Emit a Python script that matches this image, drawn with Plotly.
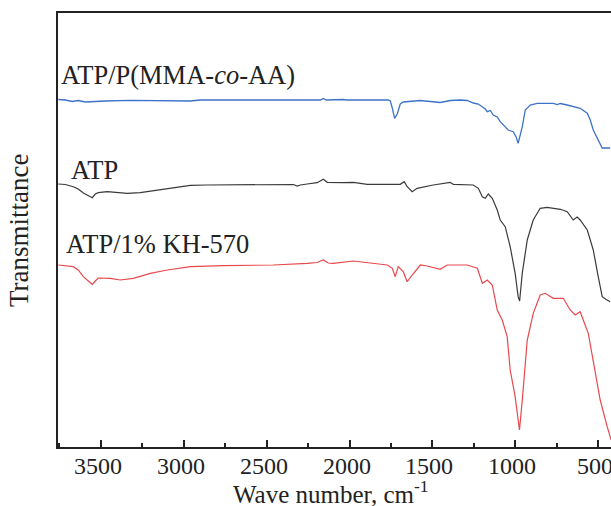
import plotly.graph_objects as go

# Wavenumber (cm^-1) and transmittance (arbitrary units, offset traces)
wn_blue = [3756, 3714, 3672, 3636, 3593, 3545, 3473, 3322, 3141, 2960, 2900, 2538, 2176, 2158, 2140, 2037, 2020,
           1766, 1754, 1742, 1728, 1712, 1694, 1676, 1634, 1573, 1513, 1453, 1392, 1332, 1290, 1254, 1223, 1199,
           1181, 1169, 1151, 1133, 1109, 1091, 1067, 1043, 1013, 995, 983, 970, 958, 940, 910, 868, 771, 747, 729,
           687, 609, 566, 548, 530, 506, 476, 428]
t_blue = [347.5, 347, 345.5, 346.5, 345, 345.5, 346, 346.7, 346.7, 346, 347, 347, 347, 348.5, 347, 347.5, 347,
          347, 346, 339, 328.7, 333, 343, 345, 345.5, 346.5, 345.5, 344.5, 346.5, 347, 346.5, 344, 343, 340.3,
          338, 335.3, 336.5, 332, 330, 325.3, 321, 317, 315.3, 310, 303.7, 311, 320.3, 337, 342, 343.7, 343.7, 342.5, 343.5,
          342, 338.7, 333.7, 327, 317, 309, 299, 299]

wn_black = [3756, 3714, 3666, 3636, 3605, 3575, 3551, 3533, 3515, 3461, 3400, 3340, 3262, 3159, 3063, 2960, 2858,
            2659, 2459, 2339, 2315, 2297, 2255, 2195, 2158, 2134, 2037, 1977, 1893, 1694, 1670, 1652, 1622, 1592,
            1495, 1393, 1374, 1254, 1223, 1199, 1181, 1163, 1139, 1109, 1091, 1061, 1031, 1001, 983, 974, 958, 940,
            928, 892, 850, 808, 729, 687, 651, 627, 609, 566, 530, 500, 476, 452, 428]
t_black = [263, 262.5, 260.3, 258, 254, 251, 249.3, 253, 254.3, 255.3, 254.3, 253.7, 254.3, 257, 259.7, 261.7, 262,
           262.3, 262.3, 262.5, 261, 262, 263, 264.3, 267.7, 264.7, 264.3, 264.7, 262.7, 262.7, 265.3, 260.3, 255.3, 258.7,
           262, 264.7, 262.7, 262, 258.7, 250.3, 248.7, 253, 248.7, 237, 227, 220.3, 200.3, 173.7, 150.3, 146, 174, 192,
           207, 227, 238.7, 239.7, 237.7, 235.3, 227, 230, 227, 217, 197, 170.3, 150.3, 147.5, 145.3]

wn_red = [3756, 3714, 3666, 3636, 3605, 3575, 3551, 3533, 3515, 3443, 3382, 3304, 3201, 3099, 2960, 2761, 2459,
          2255, 2195, 2158, 2128, 2098, 1977, 1772, 1742, 1724, 1706, 1676, 1652, 1622, 1573, 1531, 1495, 1453,
          1411, 1290, 1229, 1199, 1169, 1151, 1139, 1109, 1079, 1049, 1031, 1001, 989, 975, 958, 928, 892, 850,
          820, 771, 711, 669, 639, 609, 560, 530, 488, 446, 422]
t_red = [182, 181.5, 180.3, 177, 170.3, 166, 162.7, 166, 169, 168.7, 167, 168.7, 173.7, 177, 180.3, 181.3, 182,
         183.7, 184.5, 187, 184, 183.7, 186, 182, 178.7, 170.3, 180.3, 175.3, 165.3, 172, 182, 181, 179.7, 177.7,
         182, 182, 178.7, 163.7, 167, 163.7, 162, 137, 127, 110.3, 77, 50.3, 37, 17, 47, 107, 133.7, 152,
         153.7, 148.7, 148.7, 137, 132, 135.3, 113.7, 87, 47, 20.3, 7]

labels = ["ATP/P(MMA-<i>co</i>-AA)", "ATP", "ATP/1% KH-570"]
label_x = [3750, 3690, 3720]
label_y = [372.5, 277.5, 203.5]
tick_vals = [3500, 3000, 2500, 2000, 1500, 1000, 500]
tick_text = ["3500", "3000", "2500", "2000", "1500", "1000", "500"]

FONT = "Liberation Serif"
INK = "#222222"

fig = go.Figure()
fig.add_trace(go.Scatter(x=wn_blue, y=t_blue, mode="lines", line=dict(color="#3d72c8", width=1.3), showlegend=False))
fig.add_trace(go.Scatter(x=wn_black, y=t_black, mode="lines", line=dict(color="#3a3a3a", width=1.2), showlegend=False))
fig.add_trace(go.Scatter(x=wn_red, y=t_red, mode="lines", line=dict(color="#e8484c", width=1.2), showlegend=False))

for txt, lx, ly in zip(labels, label_x, label_y):
    fig.add_annotation(x=lx, y=ly, xref="x", yref="y", text=txt, showarrow=False,
                       xanchor="left", yanchor="middle", font=dict(family=FONT, size=26.5, color=INK))

# tick labels (drawn as annotations so the last one may run off the edge like the reference)
for tv, tt in zip(tick_vals, tick_text):
    fig.add_annotation(x=tv, y=0, xref="x", yref="paper", text=tt, showarrow=False,
                       xanchor="center", yanchor="middle", yshift=-19, xshift=-3,
                       font=dict(family=FONT, size=24, color=INK))

# axis titles
fig.add_annotation(x=0, y=0.5, xref="paper", yref="paper", text="Transmittance", textangle=-90,
                   showarrow=False, xanchor="right", yanchor="middle", xshift=-22,
                   font=dict(family=FONT, size=27, color=INK))
fig.add_annotation(x=0.494, y=0, xref="paper", yref="paper", text="Wave number, cm<sup>-1</sup>",
                   showarrow=False, xanchor="center", yanchor="middle", yshift=-45,
                   font=dict(family=FONT, size=25, color=INK))

fig.update_layout(
    width=611, height=506,
    margin=dict(l=58, r=0, t=13, b=59, autoexpand=False),
    paper_bgcolor="white", plot_bgcolor="white",
    font=dict(family=FONT, size=24, color=INK),
    xaxis=dict(range=[3758, 423], tickvals=tick_vals, showticklabels=False,
               ticks="inside", ticklen=7, tickwidth=1.5, tickcolor=INK,
               minor=dict(dtick=250, ticks="inside", ticklen=4, tickwidth=1.5, tickcolor=INK),
               showline=True, linecolor=INK, linewidth=2, mirror=True,
               showgrid=False, zeroline=False, automargin=False),
    yaxis=dict(range=[0, 434], showticklabels=False, ticks="", showline=True, linecolor=INK, linewidth=2,
               mirror=False, showgrid=False, zeroline=False, automargin=False),
)

fig.write_html("out.html", post_script="document.body.style.margin='0';",
               config={"displayModeBar": False})
